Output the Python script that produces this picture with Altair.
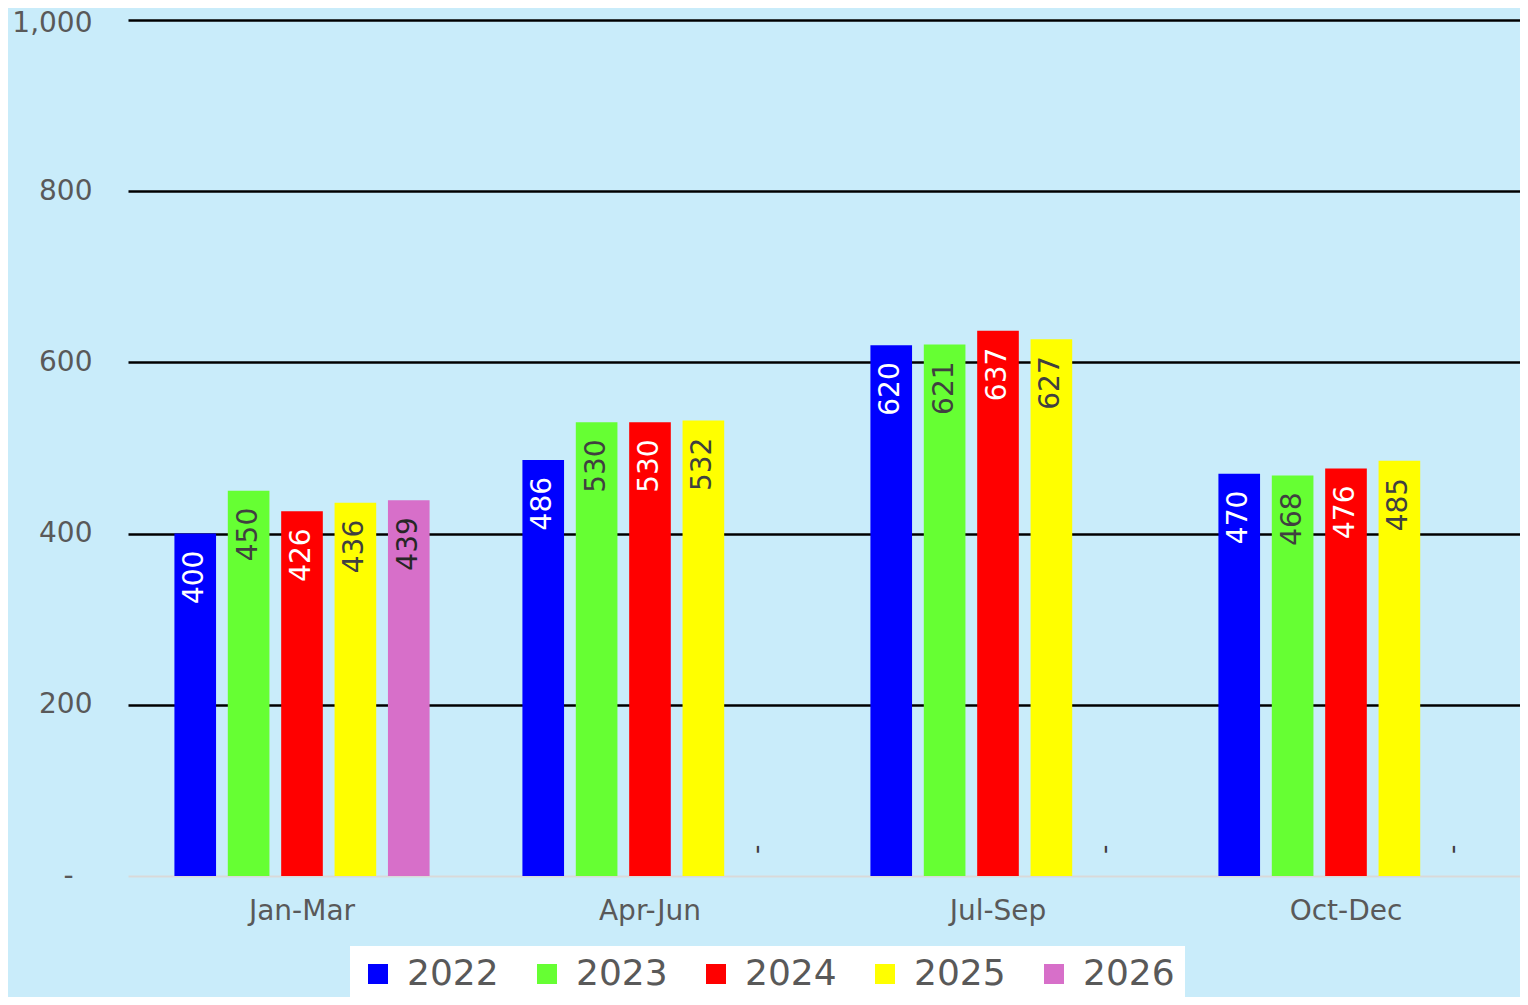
import altair as alt
import pandas as pd

quarters = ["Jan-Mar", "Apr-Jun", "Jul-Sep", "Oct-Dec"]
years = ["2022", "2023", "2024", "2025", "2026"]
v2022 = [400, 486, 620, 470]
v2023 = [450, 530, 621, 468]
v2024 = [426, 530, 637, 476]
v2025 = [436, 532, 627, 485]
v2026 = [439, None, None, None]
y_ticks = [0, 200, 400, 600, 800, 1000]

bar_colors = ["#0000FF", "#66FF33", "#FF0000", "#FFFF00", "#D76FC9"]
label_colors = ["#FFFFFF", "#404040", "#FFFFFF", "#404040", "#262626"]

series = {"2022": v2022, "2023": v2023, "2024": v2024, "2025": v2025, "2026": v2026}
rows = []
for yr, vals in series.items():
    for q, v in zip(quarters, vals):
        rows.append({"quarter": q, "year": yr, "value": v})
df = pd.DataFrame(rows)

FONT = "DejaVu Sans"
GRAY = "#595959"

x_enc = alt.X(
    "quarter:N", sort=quarters, title=None,
    scale=alt.Scale(paddingInner=0.233, paddingOuter=0.1165),
    axis=alt.Axis(labelAngle=0, labelFontSize=28, labelColor=GRAY, labelFont=FONT,
                  ticks=False, domainColor="#D9D9D9", domainWidth=2, labelPadding=21,
                  grid=False),
)
xo_enc = alt.XOffset("year:N", sort=years,
                     scale=alt.Scale(domain=years, paddingInner=0.22, paddingOuter=0.11))
y_scale = alt.Scale(domain=[0, 1000])
y_axis = alt.Axis(
    values=y_ticks, title=None,
    labelExpr="datum.value === 0 ? '-' : format(datum.value, ',')",
    labelFontSize=28, labelColor=GRAY, labelFont=FONT,
    labelPadding={"condition": {"test": "datum.value === 0", "value": 55}, "value": 36},
    labelOffset={"condition": {"test": "datum.value === 1000", "value": 3}, "value": 0},
    ticks=False, domain=False, gridWidth=2.5,
    gridColor={"condition": {"test": "datum.value === 0", "value": "transparent"}, "value": "black"},
)

base = alt.Chart(df)

bars = base.mark_bar().encode(
    x=x_enc,
    xOffset=xo_enc,
    y=alt.Y("value:Q", scale=y_scale, axis=y_axis),
    color=alt.Color(
        "year:N", sort=years,
        scale=alt.Scale(domain=years, range=bar_colors),
        legend=alt.Legend(
            orient="none", legendX=222, legendY=926, direction="horizontal", columns=5,
            fillColor="white", padding=10, columnPadding=30, title=None,
            labelFontSize=36, labelColor=GRAY, labelFont=FONT, labelOffset=11,
            symbolType="square", symbolSize=400, symbolStrokeWidth=0,
            symbolOpacity=1,
        ),
    ),
)

labels = base.transform_filter("datum.value != null").mark_text(
    angle=270, align="right", baseline="middle", dx=-17, fontSize=28, font=FONT
).encode(
    x=alt.X("quarter:N", sort=quarters),
    xOffset=alt.XOffset("year:N", sort=years),
    y=alt.Y("value:Q"),
    text=alt.Text("value:Q", format=","),
    color=alt.Color("year:N", scale=alt.Scale(domain=years, range=label_colors), legend=None),
)

missing = base.transform_filter("datum.value == null").transform_calculate(
    zero="0", dash="'-'"
).mark_text(
    angle=270, align="left", baseline="middle", dx=22, fontSize=26, font=FONT, color="#404040"
).encode(
    x=alt.X("quarter:N", sort=quarters),
    xOffset=alt.XOffset("year:N", sort=years),
    y=alt.Y("zero:Q"),
    text="dash:N",
)

chart = alt.layer(bars, labels, missing).resolve_scale(color="independent").properties(
    width=1392, height=856, background="#C9ECFA",
    padding={"left": 120, "top": 12, "right": 0, "bottom": 121},
    autosize=alt.AutoSizeParams(type="none"),
).configure_view(stroke=None)

chart.save("out.html", embed_options={"renderer": "svg", "actions": False})
